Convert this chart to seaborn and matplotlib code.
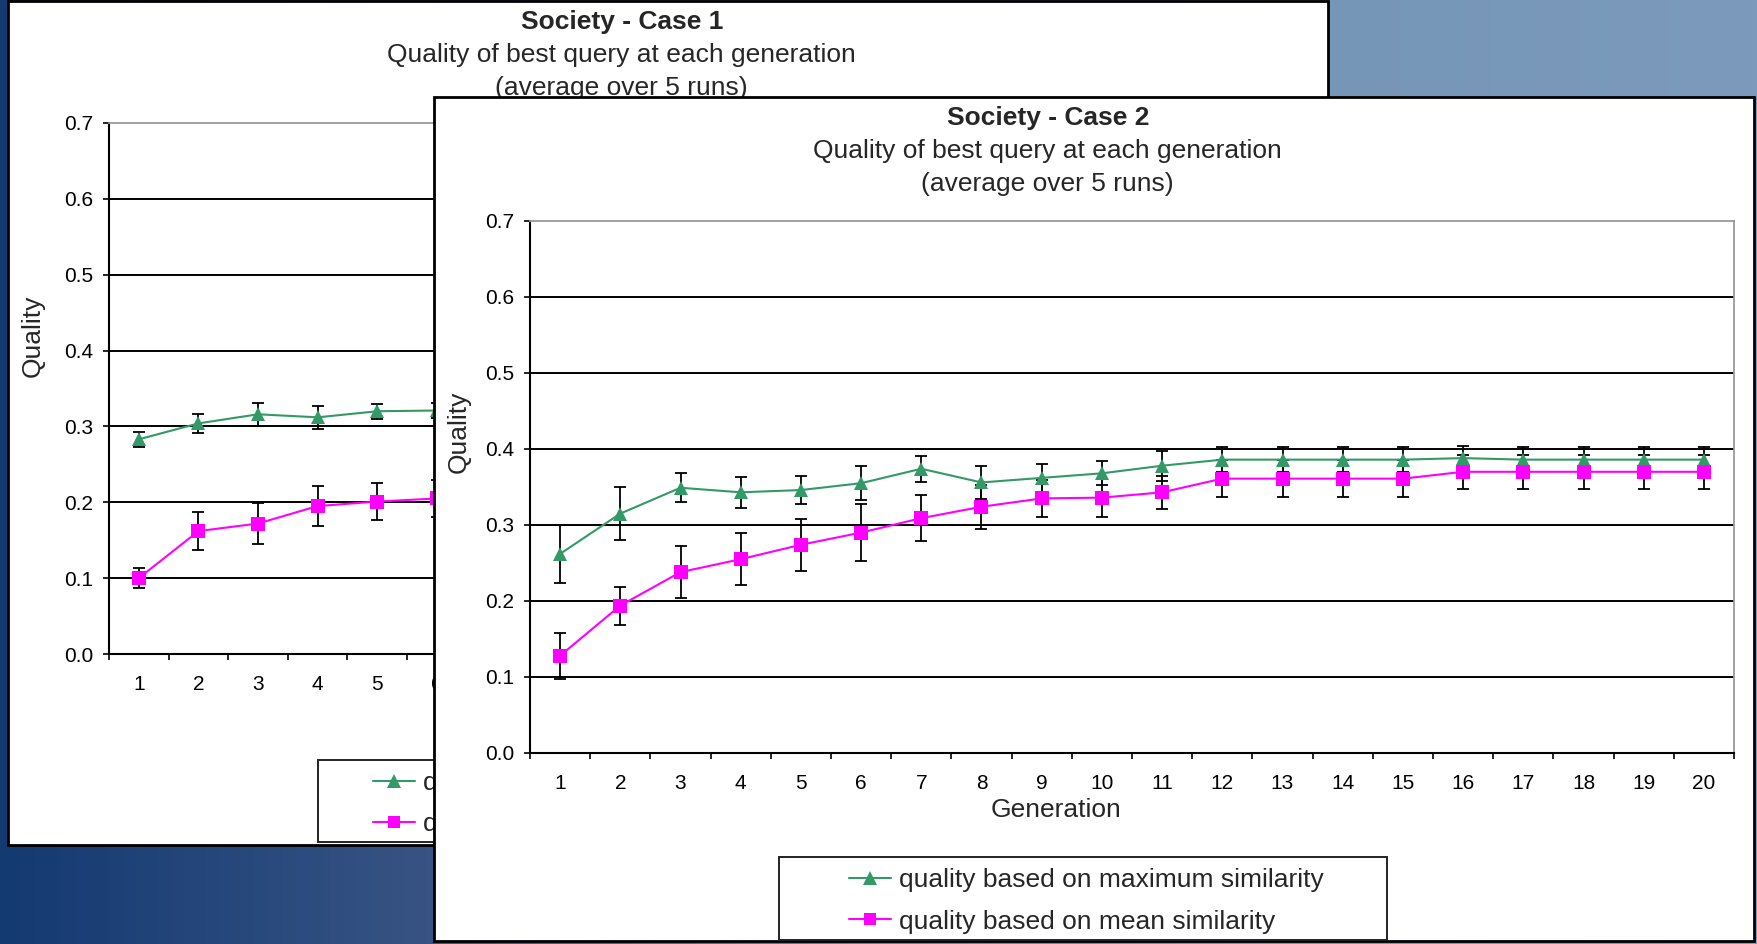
import numpy as np
import pandas as pd
import seaborn as sns
import matplotlib.pyplot as plt
from matplotlib.patches import Rectangle
from matplotlib.lines import Line2D
from matplotlib.colors import LinearSegmentedColormap
from matplotlib.transforms import Bbox, TransformedBbox

W, H = 1758, 944

# data
gens = list(range(1, 21))

# case 1 is mostly hidden behind case 2, only generations 1-6 show
case1_gens = [1, 2, 3, 4, 5, 6]
case1_max = [0.283, 0.304, 0.316, 0.312, 0.320, 0.321]
case1_max_err = [0.010, 0.013, 0.015, 0.015, 0.010, 0.010]
case1_mean = [0.100, 0.162, 0.172, 0.195, 0.201, 0.205]
case1_mean_err = [0.013, 0.025, 0.027, 0.026, 0.024, 0.024]

case2_max = [0.262, 0.315, 0.349, 0.343, 0.346, 0.355, 0.374, 0.356, 0.362, 0.368,
             0.378, 0.386, 0.386, 0.386, 0.386, 0.388, 0.386, 0.386, 0.386, 0.386]
case2_max_err = [0.038, 0.035, 0.019, 0.020, 0.018, 0.022, 0.017, 0.022, 0.018, 0.016,
                 0.020, 0.016, 0.016, 0.016, 0.016, 0.016, 0.016, 0.016, 0.016, 0.016]
case2_mean = [0.128, 0.194, 0.238, 0.255, 0.274, 0.290, 0.309, 0.324, 0.335, 0.336,
              0.343, 0.361, 0.361, 0.361, 0.361, 0.370, 0.370, 0.370, 0.370, 0.370]
case2_mean_err = [0.030, 0.025, 0.034, 0.034, 0.034, 0.038, 0.030, 0.029, 0.024, 0.025,
                  0.022, 0.024, 0.024, 0.024, 0.024, 0.022, 0.022, 0.022, 0.022, 0.022]

series_labels = ['quality based on maximum similarity', 'quality based on mean similarity']
yticks = [0.0, 0.1, 0.2, 0.3, 0.4, 0.5, 0.6, 0.7]
green = '#339966'
magenta = '#ff00ff'

sns.set_style('white')
plt.rcParams['font.family'] = ['Liberation Sans', 'DejaVu Sans']

fig = plt.figure(figsize=(W / 100, H / 100), dpi=100)


def fx(px):
    return px / W


def fy(py):
    return 1 - py / H


# slide background
bg = fig.add_axes([0, 0, 1, 1], zorder=0)
slide = LinearSegmentedColormap.from_list(
    'slide', [(0, '#143a72'), (0.25, '#385484'), (0.5, '#5f7ea6'), (0.75, '#7696b7'), (1, '#7c9bbc')])
bg.imshow(np.linspace(0, 1, 256)[None, :], cmap=slide, aspect='auto', extent=[0, 1, 0, 1])
bg.axis('off')


def draw_panel(x0, y0, z, case, gx, smax, emax, smean, emean, axbox, legbox, handle_x,
               labelled, visible_right=None):
    # white chart area
    fig.add_artist(Rectangle((fx(x0), fy(y0 + 844)), 1320 / W, 844 / H, transform=fig.transFigure,
                             facecolor='white', edgecolor='black', lw=2, zorder=z))
    lx, ly, lw_, lh = legbox
    fig.add_artist(Rectangle((fx(lx), fy(ly + lh)), lw_ / W, lh / H, transform=fig.transFigure,
                             facecolor='white', edgecolor='#222222', lw=1.4, zorder=z + 0.3))

    left, top, width, height = axbox
    ax = fig.add_axes([fx(left), fy(top + height), width / W, height / H], zorder=z + 0.6)
    ax.set_facecolor('none')

    df = pd.DataFrame({
        'Generation': list(gx) * 2,
        'Quality': list(smax) + list(smean),
        'series': [series_labels[0]] * len(gx) + [series_labels[1]] * len(gx),
    })
    ax.errorbar(gx, smax, yerr=emax, fmt='none', ecolor='black', elinewidth=1.3,
                capsize=4.5, capthick=1.3, zorder=3)
    ax.errorbar(gx, smean, yerr=emean, fmt='none', ecolor='black', elinewidth=1.3,
                capsize=4.5, capthick=1.3, zorder=3)
    sns.lineplot(data=df, x='Generation', y='Quality', hue='series', style='series',
                 palette=[green, magenta], markers=['^', 's'], dashes=False,
                 markersize=9.5, markeredgewidth=0, linewidth=1.5, legend=False,
                 errorbar=None, ax=ax, zorder=4)

    ax.set_xlim(0.5, 20.5)
    ax.set_ylim(0, 0.7)
    ax.set_yticks(yticks)
    ax.set_yticklabels([f'{v:.1f}' for v in yticks])
    ax.set_xticks(np.arange(0.5, 21, 1))
    ax.set_xticklabels([])
    ax.set_xticks(labelled, minor=True)
    ax.set_xticklabels([str(g) for g in labelled], minor=True)
    ax.tick_params(axis='x', which='major', bottom=True, length=4.5, width=1.2, color='black')
    ax.tick_params(axis='x', which='minor', bottom=True, length=0, pad=15, labelsize=15,
                   labelcolor='black')
    ax.tick_params(axis='y', left=True, length=4.5, width=1.2, color='black', pad=7,
                   labelsize=15, labelcolor='black')
    for v in yticks[1:-1]:
        ax.axhline(v, color='black', lw=1.4, zorder=1)
    for s in ['left', 'bottom']:
        ax.spines[s].set_color('black')
        ax.spines[s].set_linewidth(1.5)
    for s in ['top', 'right']:
        ax.spines[s].set_color('#9a9a9a')
        ax.spines[s].set_linewidth(1.3)
    ax.set_xlabel('')
    ax.set_ylabel('')

    handles = [Line2D([], [], color=green, marker='^', markersize=9.5, lw=1.5, markeredgewidth=0),
               Line2D([], [], color=magenta, marker='s', markersize=8.5, lw=1.5, markeredgewidth=0)]
    leg = ax.legend(handles, series_labels, loc='center left',
                    bbox_to_anchor=(fx(handle_x), fy(ly + lh / 2 + 2.5)),
                    bbox_transform=fig.transFigure,
                    frameon=False, fontsize=19, handlelength=1.6, handletextpad=0.3,
                    labelspacing=0.66, borderpad=0, borderaxespad=0)
    if visible_right is not None:
        # the back chart only peeks out left of the front one
        clip = TransformedBbox(Bbox.from_extents(0, 0, fx(visible_right), 1), fig.transFigure)
        for t in leg.get_texts():
            t.set_clip_box(clip)
            t.set_clip_on(True)

    tz = z + 0.8
    fig.text(fx(x0 + 614), fy(y0 + 21.5), f'Society - Case {case}', ha='center', va='center',
             fontsize=19, fontweight='bold', zorder=tz)
    fig.text(fx(x0 + 613), fy(y0 + 54), 'Quality of best query at each generation',
             ha='center', va='center', fontsize=19, zorder=tz)
    fig.text(fx(x0 + 613), fy(y0 + 87), '(average over 5 runs)', ha='center', va='center',
             fontsize=19, zorder=tz)
    fig.text(fx(x0 + 25), fy(y0 + 335), 'Quality', rotation=90, ha='center', va='center',
             fontsize=19, zorder=tz)
    if visible_right is None:
        fig.text(fx(x0 + 622), fy(y0 + 713), 'Generation', ha='center', va='center',
                 fontsize=19, zorder=tz)
    return ax


draw_panel(8, 1, 1, 1, case1_gens, case1_max, case1_max_err, case1_mean, case1_mean_err,
           (109, 123, 1192, 531), (318, 760, 620, 82), 373, case1_gens, visible_right=434)
draw_panel(434, 97, 3, 2, gens, case2_max, case2_max_err, case2_mean, case2_mean_err,
           (530, 221, 1204, 532), (779, 857, 608, 83), 849, gens)

fig.savefig('out.png', dpi=100)
